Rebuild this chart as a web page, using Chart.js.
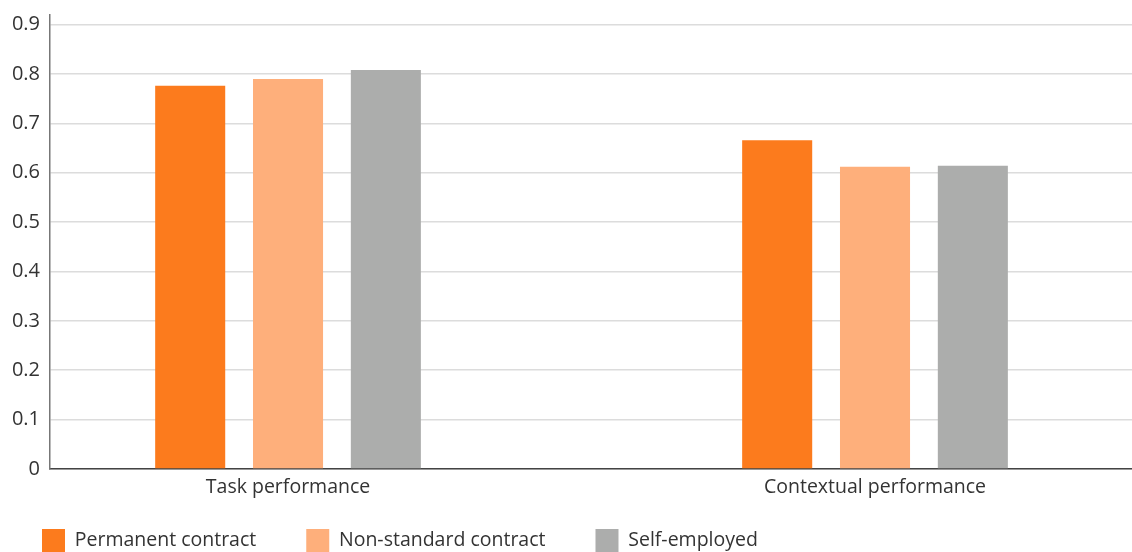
<!DOCTYPE html>
<html>
<head>
<meta charset="utf-8">
<script src="https://cdn.jsdelivr.net/npm/chart.js@4"></script>
<style>
    html, body { margin: 0; padding: 0; background: #fff; overflow: hidden; }
</style>
</head>
<body>
<canvas id="perfChart" width="1132" height="562"></canvas>
<script>
// Dữ liệu
const categories = ['Task performance', 'Contextual performance'];
const seriesNames = ['Permanent contract', 'Non-standard contract', 'Self-employed'];
const permanentValues = [0.776, 0.666];
const nonStandardValues = [0.790, 0.612];
const selfEmployedValues = [0.808, 0.614];
const seriesColors = ['#fc7b1d', '#feaf7b', '#acadac'];

const fontFamily = "'Open Sans', 'DejaVu Sans', sans-serif";
const textColor = '#333333';

// Mỗi nhóm đặt tại vị trí chỉ số của nó trên trục x tuyến tính
function toPoints(values) {
    return values.map((v, i) => ({ x: i, y: v }));
}

const seriesValues = [permanentValues, nonStandardValues, selfEmployedValues];

const ctx = document.getElementById('perfChart').getContext('2d');
new Chart(ctx, {
    type: 'bar',
    data: {
        datasets: seriesNames.map((name, i) => ({
            label: name,
            data: toPoints(seriesValues[i]),
            backgroundColor: seriesColors[i],
            borderWidth: 0,
            categoryPercentage: 0.5,
            barPercentage: 0.716
        }))
    },
    options: {
        responsive: false,
        animation: false,
        layout: {
            padding: { top: 14.7, left: -8, right: 0, bottom: 0 }
        },
        scales: {
            x: {
                type: 'linear',
                min: -0.4055,
                max: 1.4378,
                offset: false,
                grid: { display: false, offset: false, drawTicks: false },
                border: { display: true, color: '#444444', width: 1.5 },
                afterBuildTicks: function(scale) {
                    scale.ticks = categories.map((c, i) => ({ value: i }));
                },
                afterFit: function(scale) {
                    scale.height = 10;
                },
                ticks: {
                    // mirror để nhãn không bị cắt khi chiều cao trục bị thu nhỏ
                    mirror: true,
                    padding: -30.5,
                    maxRotation: 0,
                    autoSkip: false,
                    color: textColor,
                    font: { family: fontFamily, size: 19.5 },
                    callback: function(value) {
                        return categories[value];
                    }
                }
            },
            y: {
                min: 0,
                max: 0.92,
                grid: {
                    color: '#dcdcdc',
                    lineWidth: 1.5,
                    drawTicks: false
                },
                border: { display: true, color: '#777777', width: 1.5 },
                afterFit: function(scale) {
                    scale.width = 58;
                    scale.paddingTop = 0;
                    scale.paddingBottom = 0;
                },
                ticks: {
                    stepSize: 0.1,
                    includeBounds: false,
                    padding: 10,
                    color: textColor,
                    font: { family: fontFamily, size: 20 },
                    callback: function(value) {
                        return value === 0 ? '0' : value.toFixed(1);
                    }
                }
            }
        },
        plugins: {
            tooltip: { enabled: false },
            legend: {
                position: 'bottom',
                align: 'start',
                labels: {
                    boxWidth: 23,
                    boxHeight: 23,
                    padding: 50,
                    color: textColor,
                    font: { family: fontFamily, size: 19.5 }
                }
            }
        }
    }
});
</script>
</body>
</html>
